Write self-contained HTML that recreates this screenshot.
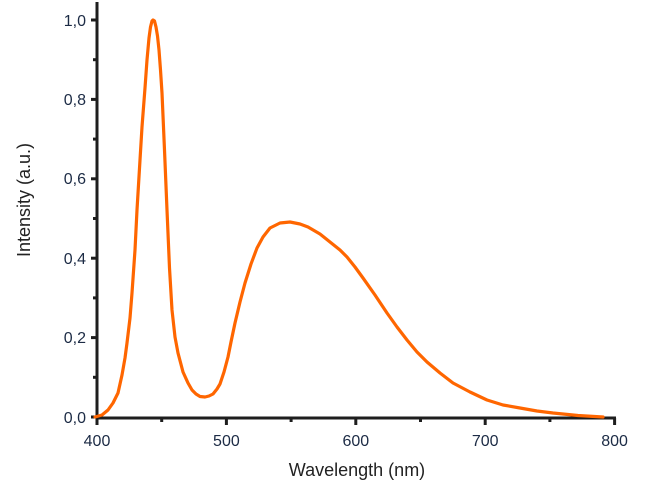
<!DOCTYPE html>
<html><head><style>
html,body{margin:0;padding:0;background:#fff;}
svg{display:block;font-family:"Liberation Sans",Arial,sans-serif;}
</style></head><body>
<svg width="647" height="493" viewBox="0 0 647 493" xmlns="http://www.w3.org/2000/svg">
<g stroke="#1e1e1e" stroke-width="3" fill="none">
<line x1="97" y1="2" x2="97" y2="419"/>
<line x1="95.5" y1="418" x2="616" y2="418"/>
<line x1="91" y1="417" x2="97" y2="417"/>
<line x1="93" y1="377.3" x2="97" y2="377.3"/>
<line x1="91" y1="337.6" x2="97" y2="337.6"/>
<line x1="93" y1="297.9" x2="97" y2="297.9"/>
<line x1="91" y1="258.2" x2="97" y2="258.2"/>
<line x1="93" y1="218.5" x2="97" y2="218.5"/>
<line x1="91" y1="178.8" x2="97" y2="178.8"/>
<line x1="93" y1="139.1" x2="97" y2="139.1"/>
<line x1="91" y1="99.4" x2="97" y2="99.4"/>
<line x1="93" y1="59.7" x2="97" y2="59.7"/>
<line x1="91" y1="20" x2="97" y2="20"/>
<line x1="97" y1="418" x2="97" y2="425"/>
<line x1="161.7" y1="418" x2="161.7" y2="422"/>
<line x1="226.4" y1="418" x2="226.4" y2="425"/>
<line x1="291.1" y1="418" x2="291.1" y2="422"/>
<line x1="355.8" y1="418" x2="355.8" y2="425"/>
<line x1="420.5" y1="418" x2="420.5" y2="422"/>
<line x1="485.2" y1="418" x2="485.2" y2="425"/>
<line x1="549.9" y1="418" x2="549.9" y2="422"/>
<line x1="614.6" y1="418" x2="614.6" y2="425"/>
</g>
<g fill="#1c2b45" font-size="16" text-anchor="end">
<text x="86" y="423">0,0</text>
<text x="86" y="343">0,2</text>
<text x="86" y="264">0,4</text>
<text x="86" y="184">0,6</text>
<text x="86" y="105">0,8</text>
<text x="86" y="26">1,0</text>
</g>
<g fill="#1c2b45" font-size="16" text-anchor="middle">
<text x="97" y="446">400</text>
<text x="226.4" y="446">500</text>
<text x="355.8" y="446">600</text>
<text x="485.2" y="446">700</text>
<text x="614.6" y="446">800</text>
</g>
<text x="357" y="476" font-size="18" fill="#222" text-anchor="middle">Wavelength (nm)</text>
<text transform="translate(30,200) rotate(-90)" font-size="18" fill="#222" text-anchor="middle">Intensity (a.u.)</text>
<polyline fill="none" stroke="#ff6600" stroke-width="3.2" stroke-linejoin="round" stroke-linecap="round"
points="95,417 102,415 108,410 113,403 118,393 122,375 125,358 127,343 130,318 132,293 135,250 137,210 140,160 142,127 145,88 147,60 149,38 150.5,27 152,21 153,20 154.5,21 156,27 157.5,36 159,50 160.5,70 162,93 164.5,150 167,210 169.5,268 172,310 175,337 178,353 183,372 188,383 192,390 196,394 200,396.5 205,397 209,396 213,394 217,389 220,384 224,372 228,357 231,342 235,323 240,302 245,283 251,264 257,248 263,237 270,228 280,223 290,222 300,224 308,227 320,234 330,242 340,250 347,257 355,267 363,278 375,295 387,313 397,327 407,340 417,352 427,362 440,373 453,383 470,392 487,400 503,405 520,408 537,411 553,413 578,415.5 603,417"/>
</svg>
</body></html>
